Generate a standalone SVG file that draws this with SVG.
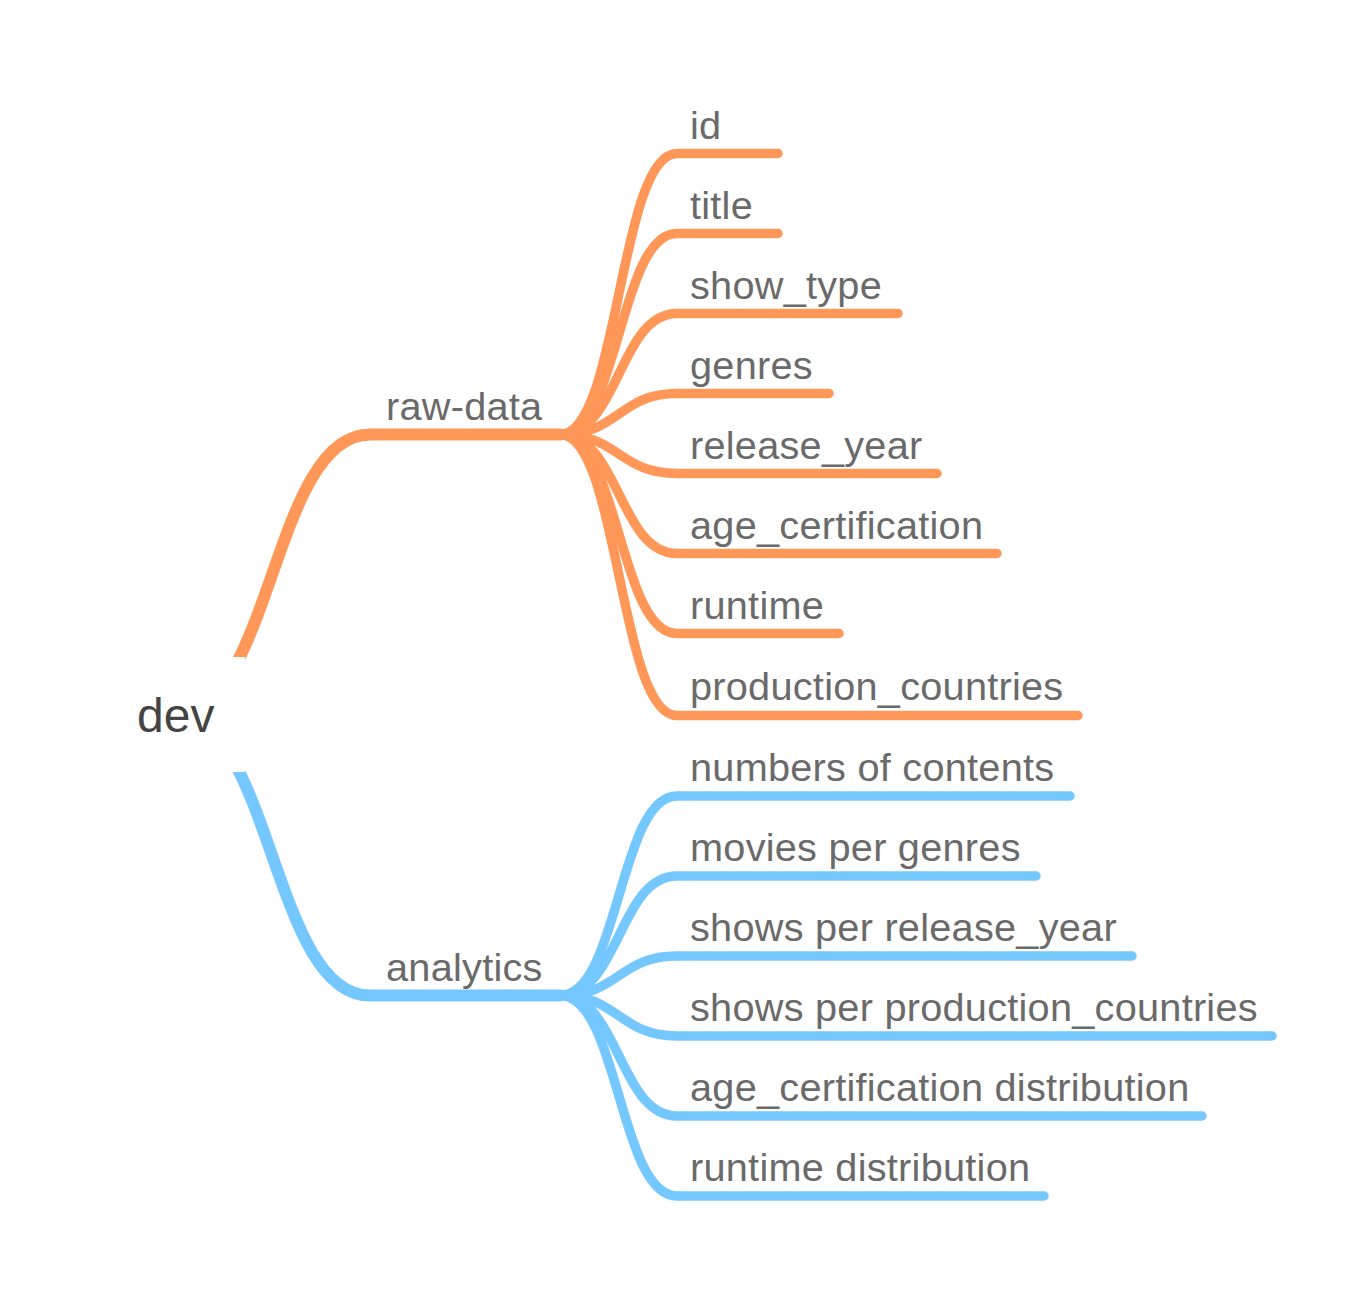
<svg xmlns="http://www.w3.org/2000/svg" width="1370" height="1294" viewBox="0 0 1370 1294">
<style>
.lk{fill:none;stroke-linecap:round;stroke-linejoin:round}
.o{stroke:#ff9758}
.b{stroke:#74c8ff}
.br{stroke-width:12}
.ch{stroke-width:9.5}
text{font-family:"Liberation Sans",Arial,Helvetica,sans-serif;fill:#6a6a6a;font-size:39.7px;letter-spacing:0.25px}
.root{fill:#444;font-size:48px;letter-spacing:0}
</style>
<rect width="1370" height="1294" fill="#fff"/>
<g id="connectors">
<path class="lk o br" d="M174 715 C272 715 272 434.5 370 434.5 L560 434.5"/>
<path class="lk b br" d="M174 715 C272 715 272 995.5 370 995.5 L560 995.5"/>
<g class="lk o ch">
<path d="M560 434.5 C619 434.5 619 153.5 677 153.5 L778 153.5"/>
<path d="M560 434.5 C619 434.5 619 233.5 677 233.5 L778 233.5"/>
<path d="M560 434.5 C619 434.5 619 313.5 677 313.5 L898 313.5"/>
<path d="M560 434.5 C619 434.5 619 393.5 677 393.5 L829 393.5"/>
<path d="M560 434.5 C619 434.5 619 473.5 677 473.5 L937 473.5"/>
<path d="M560 434.5 C619 434.5 619 553.5 677 553.5 L997 553.5"/>
<path d="M560 434.5 C619 434.5 619 633.5 677 633.5 L839 633.5"/>
<path d="M560 434.5 C619 434.5 619 715.5 677 715.5 L1078 715.5"/>
</g>
<g class="lk b ch">
<path d="M560 995.5 C619 995.5 619 796 677 796 L1070 796"/>
<path d="M560 995.5 C619 995.5 619 876 677 876 L1036 876"/>
<path d="M560 995.5 C619 995.5 619 956 677 956 L1132 956"/>
<path d="M560 995.5 C619 995.5 619 1036 677 1036 L1272 1036"/>
<path d="M560 995.5 C619 995.5 619 1116 677 1116 L1202 1116"/>
<path d="M560 995.5 C619 995.5 619 1196 677 1196 L1044 1196"/>
</g>
</g>
<g id="node-dev"><rect x="100" y="657" width="145" height="115" fill="#fff"/><text class="root" x="137" y="732">dev</text></g>
<g id="node-raw-data"><text x="386" y="420">raw-data</text></g>
<g id="node-analytics"><text x="386" y="981">analytics</text></g>
<g id="node-id"><text x="690" y="139">id</text></g>
<g id="node-title"><text x="690" y="219">title</text></g>
<g id="node-show_type"><text x="690" y="299">show_type</text></g>
<g id="node-genres"><text x="690" y="379">genres</text></g>
<g id="node-release_year"><text x="690" y="459">release_year</text></g>
<g id="node-age_certification"><text x="690" y="539">age_certification</text></g>
<g id="node-runtime"><text x="690" y="619">runtime</text></g>
<g id="node-production_countries"><text x="690" y="700">production_countries</text></g>
<g id="node-numbers"><text x="690" y="781">numbers of contents</text></g>
<g id="node-movies"><text x="690" y="861">movies per genres</text></g>
<g id="node-shows-year"><text x="690" y="941">shows per release_year</text></g>
<g id="node-shows-countries"><text x="690" y="1021">shows per production_countries</text></g>
<g id="node-age-dist"><text x="690" y="1101">age_certification distribution</text></g>
<g id="node-runtime-dist"><text x="690" y="1181">runtime distribution</text></g>
</svg>
